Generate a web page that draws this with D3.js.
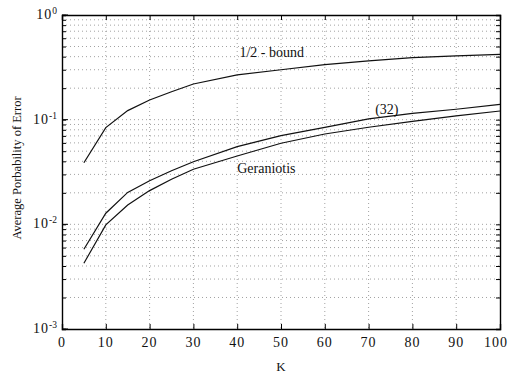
<!DOCTYPE html>
<html>
<head>
<meta charset="utf-8">
<script src="https://cdn.jsdelivr.net/npm/d3@7"></script>
<style>
  body { margin: 0; background: #fff; }
  text { font-family: "Liberation Serif", "DejaVu Serif", serif; fill: #111; }
</style>
</head>
<body>
<div id="chart"></div>
<script>
// data
var kValues = [5, 10, 15, 20, 25, 30, 40, 50, 60, 70, 80, 90, 100];
var halfBound = [0.0388, 0.084, 0.122, 0.154, 0.185, 0.219, 0.268, 0.30, 0.335, 0.365, 0.392, 0.406, 0.42];
var eq32 = [0.00578, 0.01277, 0.0202, 0.0261, 0.0325, 0.0396, 0.0552, 0.0704, 0.0845, 0.1016, 0.115, 0.1257, 0.140];
var geraniotis = [0.00425, 0.00987, 0.0153, 0.021, 0.027, 0.0336, 0.045, 0.0595, 0.073, 0.0846, 0.0965, 0.1085, 0.121];
var xTicks = [0, 10, 20, 30, 40, 50, 60, 70, 80, 90, 100];
var yExps = [0, -1, -2, -3];

var svgWidth = 510;
var svgHeight = 375;
var margin = { top: 15, right: 10, bottom: 46, left: 62 };
var width = svgWidth - margin.left - margin.right;
var height = svgHeight - margin.top - margin.bottom;

var svg = d3.select("#chart")
    .append("svg")
    .attr("width", svgWidth)
    .attr("height", svgHeight);

var chartGroup = svg.append("g")
    .attr("transform", `translate(${margin.left}, ${margin.top})`);

var xScale = d3.scaleLinear().domain([0, 100]).range([0, width]);
var yScale = d3.scaleLog().domain([1e-3, 1]).range([height, 0]);

// minor values for log grid
var minorVals = [];
yExps.slice(1).forEach(function(e) {
    for (var m = 1; m <= 9; m++) minorVals.push(m * Math.pow(10, e));
});

// grid
chartGroup.selectAll(".ygrid")
    .data(minorVals.filter(v => v > 1e-3))
    .enter()
    .append("line")
    .attr("x1", 0).attr("x2", width)
    .attr("y1", d => yScale(d)).attr("y2", d => yScale(d))
    .attr("stroke", "#8a8a8a")
    .attr("stroke-width", 0.8)
    .attr("stroke-dasharray", "1,3");

chartGroup.selectAll(".xgrid")
    .data(xTicks.slice(1, -1))
    .enter()
    .append("line")
    .attr("x1", d => xScale(d)).attr("x2", d => xScale(d))
    .attr("y1", 0).attr("y2", height)
    .attr("stroke", "#8a8a8a")
    .attr("stroke-width", 0.8)
    .attr("stroke-dasharray", "1,3");

// axes (ticks inward)
var bottomAxis = d3.axisBottom(xScale).tickValues(xTicks).tickSize(-5).tickFormat("");
var topAxis = d3.axisTop(xScale).tickValues(xTicks).tickSize(-5).tickFormat("");
var leftAxis = d3.axisLeft(yScale).tickValues(minorVals.concat([1])).tickSize(-4).tickFormat("");
var rightAxis = d3.axisRight(yScale).tickValues(minorVals.concat([1])).tickSize(-4).tickFormat("");

[
    [bottomAxis, `translate(0, ${height})`],
    [topAxis, "translate(0, 0)"],
    [leftAxis, "translate(0, 0)"],
    [rightAxis, `translate(${width}, 0)`]
].forEach(function(a) {
    var g = chartGroup.append("g").attr("transform", a[1]).call(a[0]);
    g.select(".domain").attr("stroke", "#000").attr("stroke-width", 1.4);
    g.selectAll(".tick line").attr("stroke", "#000").attr("stroke-width", 1);
});

// major y ticks a bit longer
chartGroup.selectAll(".majY")
    .data(yExps)
    .enter()
    .append("line")
    .attr("x1", 0).attr("x2", 6)
    .attr("y1", d => yScale(Math.pow(10, d))).attr("y2", d => yScale(Math.pow(10, d)))
    .attr("stroke", "#000");

// tick labels (last one kept inside the page)
chartGroup.selectAll(".xlab")
    .data(xTicks)
    .enter()
    .append("text")
    .attr("x", d => d === 100 ? xScale(d) + 8 : xScale(d))
    .attr("y", height + 18)
    .attr("text-anchor", d => d === 100 ? "end" : "middle")
    .attr("font-size", "14px")
    .attr("letter-spacing", "1px")
    .text(d => d);

var yLabs = chartGroup.selectAll(".ylab")
    .data(yExps)
    .enter()
    .append("text")
    .attr("x", -5)
    .attr("y", d => yScale(Math.pow(10, d)) + 4)
    .attr("text-anchor", "end")
    .attr("font-size", "14px");
yLabs.append("tspan").attr("letter-spacing", "1px").text("10");
yLabs.append("tspan")
    .attr("dy", -5)
    .attr("font-size", "9.5px")
    .text(d => d === 0 ? "0" : d);

// lines
var line = d3.line()
    .x(d => xScale(d[0]))
    .y(d => yScale(d[1]));

[halfBound, eq32, geraniotis].forEach(function(series) {
    chartGroup.append("path")
        .datum(kValues.map((k, i) => [k, series[i]]))
        .attr("fill", "none")
        .attr("stroke", "#111")
        .attr("stroke-width", 1.2)
        .attr("d", line);
});

// curve labels
var curveLabels = [
    { text: "1/2 - bound", k: 40.5, v: 0.40 },
    { text: "(32)", k: 71.5, v: 0.114 },
    { text: "Geraniotis", k: 40, v: 0.031 }
];
chartGroup.selectAll(".clab")
    .data(curveLabels)
    .enter()
    .append("text")
    .attr("x", d => xScale(d.k))
    .attr("y", d => yScale(d.v))
    .attr("font-size", "14px")
    .text(d => d.text);

// axis titles
svg.append("text")
    .attr("x", 281)
    .attr("y", 371)
    .attr("text-anchor", "middle")
    .attr("font-size", "13px")
    .text("K");

svg.append("text")
    .attr("transform", "translate(21, 168) rotate(-90)")
    .attr("text-anchor", "middle")
    .attr("font-size", "12.5px")
    .text("Average Porbability of Error");
</script>
</body>
</html>
